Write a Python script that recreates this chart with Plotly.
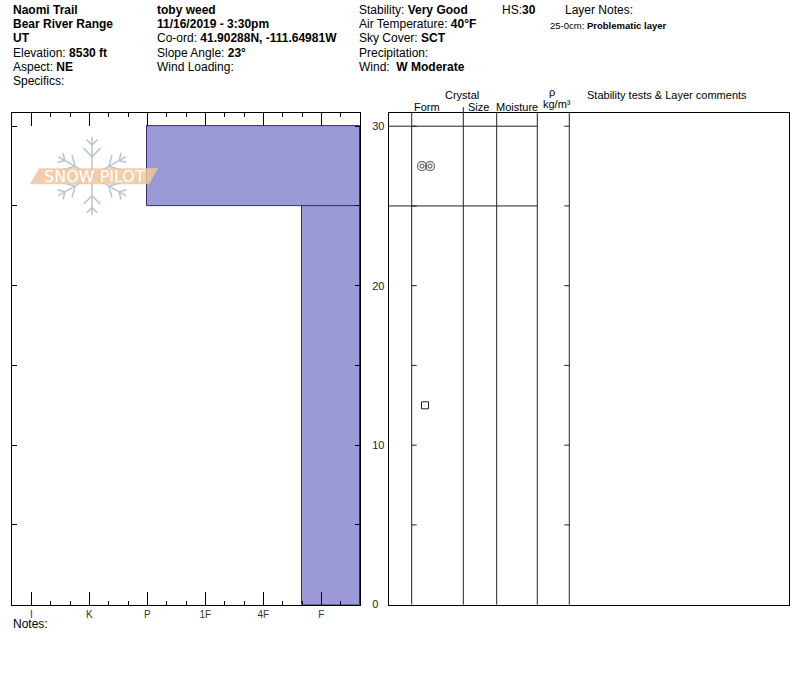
import math
import plotly.graph_objects as go

# snow profile data
layer_top = [30, 25]
layer_bottom = [25, 0]
layer_hardness = ['P', 'F+']
layer_form = ['MFcr', 'FC']
hardness_labels = ['I', 'K', 'P', '1F', '4F', 'F']
depth_labels = [0, 10, 20, 30]
snow_depth = 30

W = 800
H_EFF = 669.3  # the capture comes out about 1% shorter than the page


def px(x):
    return x / W


def py(y):
    return 1 - y / H_EFF


def hardness_value(code):
    base = code.rstrip('+-')
    v = hardness_labels.index(base)
    if code.endswith('+'):
        v -= 1 / 3
    elif code.endswith('-'):
        v += 1 / 3
    return v


x_left = -1 / 3
x_right = len(hardness_labels) - 1 + 2 / 3
y_max = snow_depth + 0.82

hard = [hardness_value(h) for h in layer_hardness]
mids = [(t + b) / 2 for t, b in zip(layer_top, layer_bottom)]
thick = [t - b for t, b in zip(layer_top, layer_bottom)]

fig = go.Figure()

fig.add_trace(go.Bar(
    orientation='h', y=mids, width=thick, base=hard,
    x=[x_right - h for h in hard],
    marker=dict(color='#9b9ad6', line=dict(color='#2e2e70', width=1)),
    xaxis='x', yaxis='y', showlegend=False, hoverinfo='skip'))

# crystal form symbols in the right table
form_x = 37
for form, y in zip(layer_form, mids):
    if form == 'MFcr':
        fig.add_trace(go.Scatter(
            x=[form_x - 4, form_x + 4, form_x - 4, form_x + 4], y=[y] * 4,
            mode='markers', xaxis='x2', yaxis='y2', showlegend=False, hoverinfo='skip',
            marker=dict(symbol='circle-open', size=[9, 9, 4, 4], color='#333',
                        line=dict(width=1.2, color='#333'))))
    elif form == 'FC':
        fig.add_trace(go.Scatter(
            x=[form_x - 1], y=[y], mode='markers', xaxis='x2', yaxis='y2',
            showlegend=False, hoverinfo='skip',
            marker=dict(symbol='square-open', size=7, color='#222',
                        line=dict(width=1, color='#222'))))

shapes = []

# snowpilot logo
cx, cy, R = 92, 176, 39
flake = '#b7c3d2'
for k in range(6):
    a = math.radians(90 + 60 * k)
    dx, dy = math.cos(a), -math.sin(a)
    shapes.append(dict(type='line', xref='paper', yref='paper',
                       x0=px(cx), y0=py(cy), x1=px(cx + R * dx), y1=py(cy + R * dy),
                       line=dict(color=flake, width=1.5)))
    for f, L in [(0.5, 0.3), (0.8, 0.2)]:
        bx, by = cx + f * R * dx, cy + f * R * dy
        for s in (-1, 1):
            b = a + s * math.radians(45)
            ex, ey = bx + L * R * math.cos(b), by - L * R * math.sin(b)
            shapes.append(dict(type='line', xref='paper', yref='paper',
                               x0=px(bx), y0=py(by), x1=px(ex), y1=py(ey),
                               line=dict(color=flake, width=1.5)))
shapes.append(dict(type='path', xref='paper', yref='paper',
                   path='M {} {} L {} {} L {} {} L {} {} Z'.format(
                       px(30), py(184), px(39), py(168), px(158), py(168), px(149), py(184)),
                   fillcolor='rgba(240,198,156,0.85)', line=dict(width=0)))

# right table columns and layer lines
col_edges = [22.7, 74.3, 107.7, 148.3, 180.3]
for c in col_edges:
    shapes.append(dict(type='line', xref='x2', yref='y2 domain', x0=c, x1=c, y0=0, y1=1,
                       line=dict(color='#222', width=1)))
for t in layer_top:
    shapes.append(dict(type='line', xref='x2', yref='y2', x0=0, x1=col_edges[3], y0=t, y1=t,
                       line=dict(color='#222', width=1)))
for d in range(5, snow_depth + 1, 5):
    shapes.append(dict(type='line', xref='x2', yref='y2', x0=col_edges[0], x1=col_edges[0] + 5,
                       y0=d, y1=d, line=dict(color='#222', width=1)))
    shapes.append(dict(type='line', xref='x2', yref='y2', x0=col_edges[4] - 5, x1=col_edges[4],
                       y0=d, y1=d, line=dict(color='#222', width=1)))
shapes.append(dict(type='line', xref='x2', yref='paper', x0=col_edges[1], x1=col_edges[1],
                   y0=py(113), y1=py(107), line=dict(color='#222', width=1)))

ann = []


def txt(x, y, s, size=12, anchor='left'):
    ann.append(dict(x=px(x), y=py(y), xref='paper', yref='paper', text=s, showarrow=False,
                    xanchor=anchor, yanchor='middle', font=dict(size=size, color='black')))


rows = [10, 24, 38.3, 52.7, 67, 81]
col1 = ['<b>Naomi Trail</b>', '<b>Bear River Range</b>', '<b>UT</b>',
        'Elevation: <b>8530 ft</b>', 'Aspect: <b>NE</b>', 'Specifics:']
col2 = ['<b>toby weed</b>', '<b>11/16/2019 - 3:30pm</b>',
        'Co-ord: <b>41.90288N, -111.64981W</b>', 'Slope Angle: <b>23°</b>', 'Wind Loading:']
col3 = ['Stability: <b>Very Good</b>', 'Air Temperature: <b>40°F</b>', 'Sky Cover: <b>SCT</b>',
        'Precipitation:', 'Wind:  <b>W Moderate</b>']
for r, s in zip(rows, col1):
    txt(11, r, s)
for r, s in zip(rows, col2):
    txt(155, r, s)
for r, s in zip(rows, col3):
    txt(357, r, s)
txt(500, 10, 'HS:<b>{}</b>'.format(snow_depth))
txt(563, 10, 'Layer Notes:')
txt(548, 25, '25-0cm: <b>Problematic layer</b>', size=9.5)
txt(11, 623, 'Notes:')

txt(461.7, 95, 'Crystal', 11, 'center')
txt(427, 107, 'Form', 11, 'center')
txt(478, 107, 'Size', 11, 'center')
txt(516.7, 107, 'Moisture', 11, 'center')
txt(552, 92, 'ρ', 11, 'center')
txt(557, 104, 'kg/m³', 11, 'center')
txt(585, 95, 'Stability tests &amp; Layer comments', 11)

ann.append(dict(x=px(94), y=py(176), xref='paper', yref='paper', text='SNOW PILOT',
                showarrow=False, xanchor='center', yanchor='middle',
                font=dict(size=16, color='white', family='DejaVu Sans, sans-serif')))

minor_x = [i + s / 3 for i in range(-1, len(hardness_labels)) for s in (1, 2)]
minor_x = [m for m in minor_x if x_left - 0.01 < m < x_right + 0.01]

fig.update_layout(
    autosize=True,
    margin=dict(l=0, r=0, t=0, b=0),
    paper_bgcolor='white', plot_bgcolor='white',
    font=dict(family='Liberation Sans, Arial, sans-serif', color='black'),
    bargap=0,
    xaxis=dict(domain=[px(12), px(360)], range=[x_left, x_right],
               tickmode='array', tickvals=list(range(len(hardness_labels))), ticktext=hardness_labels,
               ticks='inside', ticklen=13, tickcolor='black', tickwidth=1,
               minor=dict(tickmode='array', tickvals=minor_x, ticks='inside', ticklen=4,
                          tickcolor='black', showgrid=False),
               showline=True, linecolor='black', linewidth=1, mirror='ticks',
               showgrid=False, zeroline=False, tickfont=dict(size=10, color='#333'),
               fixedrange=True),
    yaxis=dict(domain=[py(604), py(113)], range=[0, y_max], side='right',
               tickmode='array', tickvals=depth_labels,
               ticks='inside', ticklen=5, tickcolor='black',
               minor=dict(tickmode='linear', tick0=0, dtick=5, ticks='inside', ticklen=5,
                          tickcolor='black', showgrid=False),
               showline=True, linecolor='black', linewidth=1, mirror='ticks',
               showgrid=False, zeroline=False, ticklabelstandoff=9,
               tickfont=dict(size=11, color='#222'), fixedrange=True),
    xaxis2=dict(domain=[px(389), px(789)], range=[0, 400], anchor='y2',
                showticklabels=False, ticks='', showline=True, linecolor='black',
                mirror=True, showgrid=False, zeroline=False, fixedrange=True),
    yaxis2=dict(domain=[py(604), py(113)], range=[0, y_max], anchor='x2',
                showticklabels=False, ticks='', showline=True, linecolor='black',
                mirror=True, showgrid=False, zeroline=False, fixedrange=True),
    shapes=shapes,
    annotations=ann,
)

fig.write_html(
    "out.html",
    default_width='100vw', default_height='100vh',
    config={'displayModeBar': False, 'responsive': True},
    post_script=(
        "document.documentElement.style.margin='0';"
        "document.documentElement.style.overflow='hidden';"
        "document.body.style.margin='0';document.body.style.overflow='hidden';"
        "var d=document.getElementById('{plot_id}');"
        "d.style.position='fixed';d.style.top='0';d.style.left='0';"
        "Plotly.Plots.resize(d);"
    ),
)
